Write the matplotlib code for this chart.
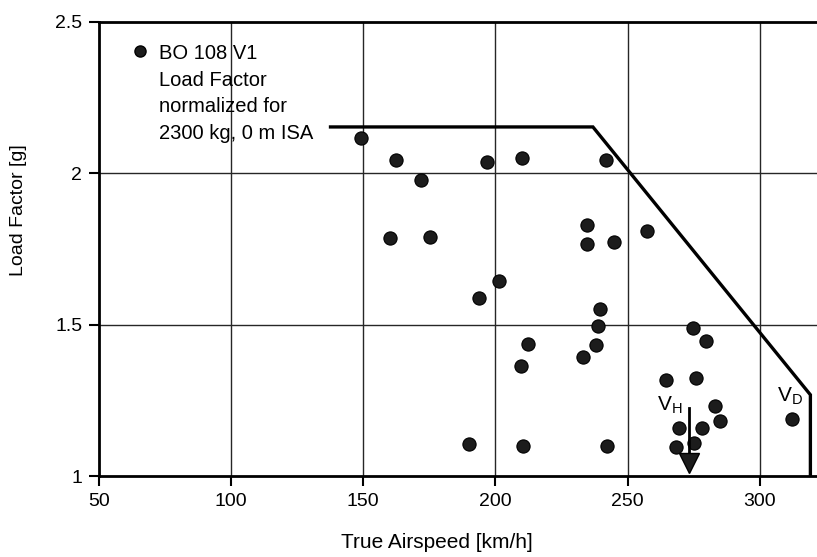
import numpy as np
import matplotlib
matplotlib.use("Agg")
import matplotlib.pyplot as plt

plt.rcParams['font.family'] = ['Liberation Sans', 'DejaVu Sans']

# measured points, BO 108 V1
airspeed = [149.2, 162.2, 172.0, 196.7, 209.9, 241.7, 160.2, 175.4, 201.3,
            193.8, 212.3, 209.8, 190.0, 210.6, 234.7, 234.7, 245.0, 257.4,
            239.5, 239.0, 238.0, 233.0, 242.1, 274.8, 279.8, 264.5, 275.8,
            283.2, 285.1, 269.3, 278.1, 268.4, 275.3, 312.4]
load = [2.117, 2.043, 1.976, 2.037, 2.051, 2.043, 1.785, 1.790, 1.645,
        1.589, 1.437, 1.363, 1.105, 1.099, 1.828, 1.766, 1.773, 1.807,
        1.551, 1.494, 1.434, 1.393, 1.098, 1.488, 1.444, 1.317, 1.325,
        1.230, 1.180, 1.160, 1.159, 1.097, 1.109, 1.188]

# envelope
env_v = [137.6, 236.9, 319.2, 319.2]
env_n = [2.152, 2.152, 1.268, 1.0]

vh = 273.2
xticks = [50, 100, 150, 200, 250, 300]
yticks = [1, 1.5, 2, 2.5]
ytick_labels = ["1", "1.5", "2", "2.5"]

fig = plt.figure(figsize=(8.17, 5.57), dpi=100)
ax = fig.add_axes([0.1212, 0.1454, 1.0 - 0.1212, 0.9614 - 0.1454])

ax.set_xlim(50, 321.7)
ax.set_ylim(1, 2.5)

for x in xticks[1:]:
    ax.axvline(x, color='0.15', lw=1.0, zorder=1)
for y in yticks[1:3]:
    ax.axhline(y, color='0.15', lw=1.0, zorder=1)

ax.plot(env_v, env_n, color='black', lw=2.4, zorder=2, solid_joinstyle='miter')

ax.plot(airspeed, load, 'o', ms=9.5, mfc='#1c1c1c', mec='black', mew=0.8, zorder=3)

# V_H arrow
ax.plot([vh, vh], [1.225, 1.06], color='black', lw=2.0, zorder=3)
ax.plot([vh], [1.043], 'v', ms=14, mfc='#1c1c1c', mec='black', zorder=4, clip_on=False)
ax.text(270.7, 1.235, r'V$_\mathregular{H}$', ha='right', va='center', fontsize=15)
ax.text(316.3, 1.262, r'V$_\mathregular{D}$', ha='right', va='center', fontsize=15)

# legend-like note
ax.plot([65.4], [2.404], 'o', ms=8, mfc='#1c1c1c', mec='black', zorder=3)
ax.text(72.6, 2.425, "BO 108 V1\nLoad Factor\nnormalized for\n2300 kg, 0 m ISA",
        ha='left', va='top', fontsize=14.5, linespacing=1.5)

ax.set_xticks(xticks)
ax.set_yticks(yticks)
ax.set_yticklabels(ytick_labels)
ax.tick_params(direction='out', length=7, width=1.5, labelsize=14, pad=5)

for s in ['left', 'bottom', 'top']:
    ax.spines[s].set_linewidth(2.0)
ax.spines['right'].set_visible(False)

ax.set_xlabel("True Airspeed [km/h]", fontsize=15)
ax.xaxis.set_label_coords(0.47, -0.125)
ax.set_ylabel("Load Factor [g]", fontsize=14)
ax.yaxis.set_label_coords(-0.1, 0.585)

fig.savefig("out.png", dpi=100)
